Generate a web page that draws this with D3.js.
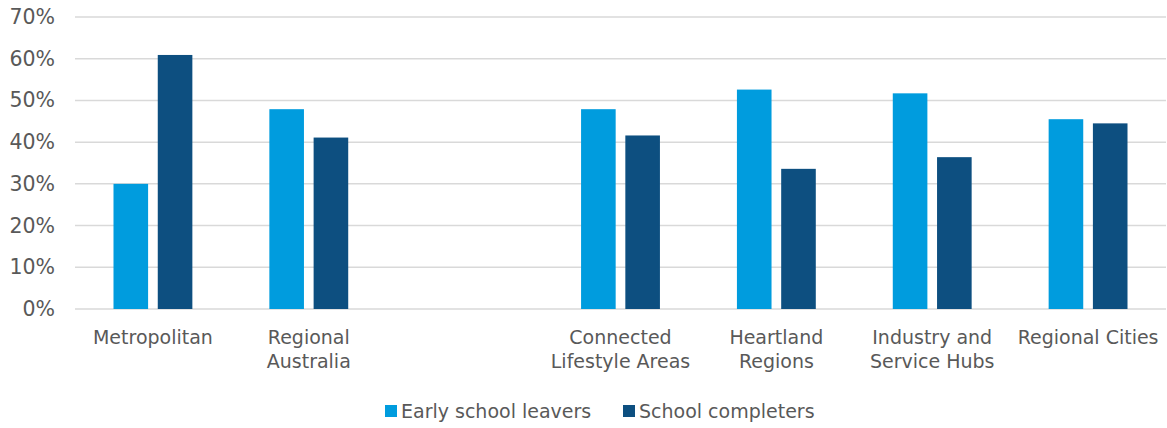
<!DOCTYPE html>
<html>
<head>
<meta charset="utf-8">
<script src="https://cdn.jsdelivr.net/npm/d3@7"></script>
<style>
  body { margin: 0; background: #fff; }
  svg { font-family: "DejaVu Sans", sans-serif; }
</style>
</head>
<body>
<svg id="chart" width="1167" height="428"></svg>
<script>
// data
var categories = ["Metropolitan", "Regional Australia", "", "Connected Lifestyle Areas", "Heartland Regions", "Industry and Service Hubs", "Regional Cities"];
var categoryLines = [["Metropolitan"], ["Regional", "Australia"], [], ["Connected", "Lifestyle Areas"], ["Heartland", "Regions"], ["Industry and", "Service Hubs"], ["Regional Cities"]];
var seriesNames = ["Early school leavers", "School completers"];
var earlyLeavers = [30.0, 47.9, null, 47.9, 52.6, 51.7, 45.5];
var completers = [60.9, 41.1, null, 41.6, 33.6, 36.4, 44.5];
var yTicks = [0, 10, 20, 30, 40, 50, 60, 70];
var colors = ["#009CDE", "#0D4F80"];

var margin = {top: 17, right: 1, bottom: 118, left: 75};
var svg = d3.select("#chart");
var width = +svg.attr("width"), height = +svg.attr("height");

var x = d3.scaleBand()
  .domain(d3.range(categories.length))
  .range([margin.left, width - margin.right])
  .padding(0);

var step = x.bandwidth();
var barW = step * 0.222;
var gap = step * 0.062;

var y = d3.scaleLinear()
  .domain([0, 70])
  .range([height - margin.bottom - 1, margin.top]);

// gridlines
svg.append("g")
  .selectAll("line")
  .data(yTicks)
  .join("line")
  .attr("x1", margin.left)
  .attr("x2", width - margin.right)
  .attr("y1", function(d) { return y(d); })
  .attr("y2", function(d) { return y(d); })
  .attr("stroke", "#D9D9D9")
  .attr("stroke-width", 1.5);

// y axis labels
var yAxis = d3.axisLeft(y).tickValues(yTicks).tickFormat(function(d) { return d + "%"; }).tickSize(0).tickPadding(20);
var yg = svg.append("g").attr("transform", "translate(" + margin.left + ",0)").call(yAxis);
yg.select(".domain").remove();
yg.selectAll("text").attr("fill", "#595959").style("font-size", "20.5px").style("font-family", "DejaVu Sans, sans-serif");

// bars
var series = [earlyLeavers, completers];
series.forEach(function(vals, s) {
  svg.append("g")
    .selectAll("rect")
    .data(vals.map(function(v, i) { return {v: v, i: i}; }).filter(function(d) { return d.v !== null; }))
    .join("rect")
    .attr("x", function(d) {
      var c = x(d.i) + step / 2;
      return s === 0 ? c - gap / 2 - barW : c + gap / 2;
    })
    .attr("y", function(d) { return y(d.v); })
    .attr("width", barW)
    .attr("height", function(d) { return y(0) - y(d.v); })
    .attr("fill", colors[s]);
});

// category labels
var labels = svg.append("g");
categoryLines.forEach(function(lines, i) {
  var t = labels.append("text")
    .attr("x", x(i) + step / 2)
    .attr("y", 344)
    .attr("text-anchor", "middle")
    .attr("fill", "#595959")
    .style("font-size", "19px");
  lines.forEach(function(l, k) {
    t.append("tspan").attr("x", x(i) + step / 2).attr("dy", k === 0 ? 0 : 24).text(l);
  });
});

// legend
var legendX = [385, 623];
var legend = svg.append("g");
seriesNames.forEach(function(name, s) {
  legend.append("rect")
    .attr("x", legendX[s]).attr("y", 405)
    .attr("width", 12).attr("height", 12)
    .attr("fill", colors[s]);
  legend.append("text")
    .attr("x", legendX[s] + 16).attr("y", 418)
    .attr("fill", "#595959")
    .style("font-size", "19px")
    .text(name);
});
</script>
</body>
</html>
